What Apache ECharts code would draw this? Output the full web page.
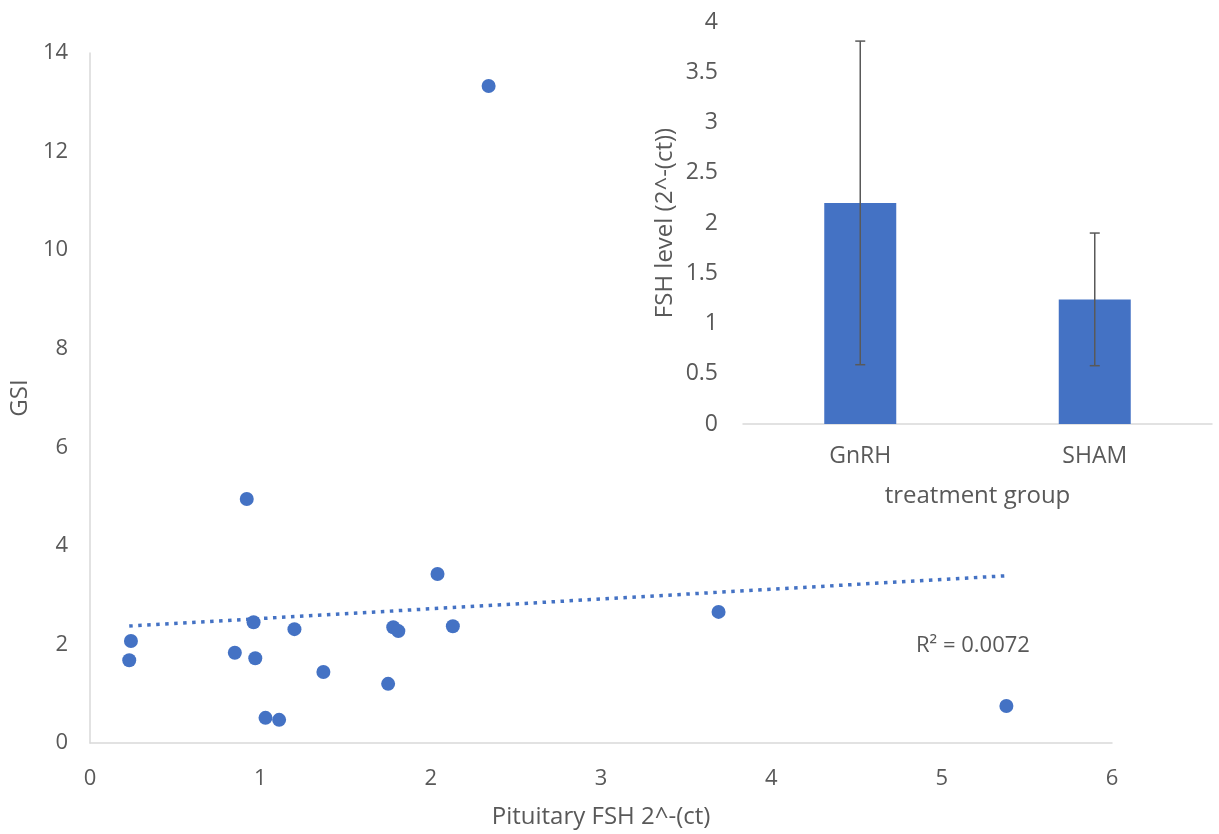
<!DOCTYPE html>
<html>
<head>
<meta charset="utf-8">
<title>GSI vs Pituitary FSH</title>
<script src="https://cdn.jsdelivr.net/npm/echarts@6/dist/echarts.min.js"></script>
<style>
  html, body { margin: 0; padding: 0; background: #fff; }
  #chart { width: 1219px; height: 834px; }
</style>
</head>
<body>
<div id="chart"></div>
<script>
// scatter: pituitary FSH 2^-(ct) vs GSI
const fshValues = [2.34, 0.92, 2.04, 3.69, 0.24, 0.23, 0.96, 0.85, 0.97, 1.20, 1.37, 1.75, 1.78, 1.81, 2.13, 1.03, 1.11, 5.38];
const gsiValues = [13.33, 4.95, 3.43, 2.66, 2.07, 1.68, 2.45, 1.83, 1.72, 2.31, 1.44, 1.20, 2.35, 2.27, 2.37, 0.51, 0.47, 0.75];
const r2Label = "R² = 0.0072";

// inset bars: FSH level by treatment group
const groups = ["GnRH", "SHAM"];
const groupMeans = [2.20, 1.24];
const groupErrors = [1.61, 0.66];

// linear trend line (least squares), drawn between min and max x
function trendLine(xs, ys) {
  let n = xs.length, mx = 0, my = 0;
  for (let i = 0; i < n; i++) { mx += xs[i]; my += ys[i]; }
  mx /= n; my /= n;
  let sxy = 0, sxx = 0;
  for (let i = 0; i < n; i++) {
    sxy += (xs[i] - mx) * (ys[i] - my);
    sxx += (xs[i] - mx) * (xs[i] - mx);
  }
  let b = sxy / sxx, a = my - b * mx;
  let x0 = Math.min(...xs), x1 = Math.max(...xs);
  return [[x0, a + b * x0], [x1, a + b * x1]];
}

const textColor = "#595959";
const lineColor = "#d9d9d9";
const blue = "#4472C4";
const font = "Open Sans";

let chart = echarts.init(document.getElementById("chart"));
chart.setOption({
  animation: false,
  textStyle: { fontFamily: font, color: textColor },
  grid: [
    { left: 89, right: 107, top: 53, bottom: 90 },
    { left: 743, width: 469, top: 22, height: 402 },
  ],
  xAxis: [
    {
      gridIndex: 0,
      type: "value",
      min: 0, max: 6, interval: 1,
      name: "Pituitary FSH 2^-(ct)",
      nameLocation: "middle",
      nameGap: 62,
      nameTextStyle: { fontSize: 24, color: textColor },
      axisLine: { show: true, lineStyle: { color: lineColor, width: 1.5 } },
      axisTick: { show: false },
      splitLine: { show: false },
      axisLabel: { fontSize: 22, color: textColor, margin: 25 },
    },
    {
      gridIndex: 1,
      type: "category",
      data: groups,
      name: "treatment group",
      nameLocation: "middle",
      nameGap: 60,
      nameTextStyle: { fontSize: 24, color: textColor },
      axisLine: { lineStyle: { color: lineColor, width: 1.5 } },
      axisTick: { show: false },
      axisLabel: { fontSize: 23, color: textColor, margin: 21 },
    },
  ],
  yAxis: [
    {
      gridIndex: 0,
      type: "value",
      min: 0, max: 14, interval: 2,
      name: "GSI",
      nameLocation: "middle",
      nameGap: 52,
      nameTextStyle: { fontSize: 24, color: textColor },
      axisLine: { show: true, lineStyle: { color: lineColor, width: 1.5 } },
      axisTick: { show: false },
      splitLine: { show: false },
      axisLabel: { fontSize: 22, color: textColor, margin: 22 },
    },
    {
      gridIndex: 1,
      type: "value",
      min: 0, max: 4, interval: 0.5,
      name: "FSH level (2^-(ct))",
      nameLocation: "middle",
      nameGap: 66,
      nameTextStyle: { fontSize: 24, color: textColor },
      axisLine: { show: false },
      axisTick: { show: false },
      splitLine: { show: false },
      axisLabel: { fontSize: 23, color: textColor, margin: 25 },
    },
  ],
  graphic: [
    {
      type: "text",
      left: 916,
      top: 635,
      style: { text: r2Label, fontSize: 22, fontFamily: font, fill: textColor },
    },
  ],
  series: [
    {
      type: "scatter",
      xAxisIndex: 0, yAxisIndex: 0,
      data: fshValues.map((x, i) => [x, gsiValues[i]]),
      symbolSize: 14,
      itemStyle: { color: blue, opacity: 1 },
    },
    {
      type: "line",
      xAxisIndex: 0, yAxisIndex: 0,
      data: trendLine(fshValues, gsiValues),
      symbol: "none",
      lineStyle: { color: blue, width: 3.5, type: [3.5, 5.5] },
    },
    {
      type: "bar",
      xAxisIndex: 1, yAxisIndex: 1,
      data: groupMeans,
      barWidth: 72,
      itemStyle: { color: blue },
    },
    {
      // error bars
      type: "custom",
      xAxisIndex: 1, yAxisIndex: 1,
      data: groupMeans.map((m, i) => [i, m - groupErrors[i], m + groupErrors[i]]),
      renderItem: function (params, api) {
        let lo = api.coord([api.value(0), api.value(1)]);
        let hi = api.coord([api.value(0), api.value(2)]);
        let cap = 5;
        let st = { stroke: textColor, lineWidth: 1.5 };
        return {
          type: "group",
          children: [
            { type: "line", shape: { x1: lo[0], y1: lo[1], x2: hi[0], y2: hi[1] }, style: st },
            { type: "line", shape: { x1: hi[0] - cap, y1: hi[1], x2: hi[0] + cap, y2: hi[1] }, style: st },
            { type: "line", shape: { x1: lo[0] - cap, y1: lo[1], x2: lo[0] + cap, y2: lo[1] }, style: st },
          ],
        };
      },
      z: 5,
    },
  ],
});
</script>
</body>
</html>
